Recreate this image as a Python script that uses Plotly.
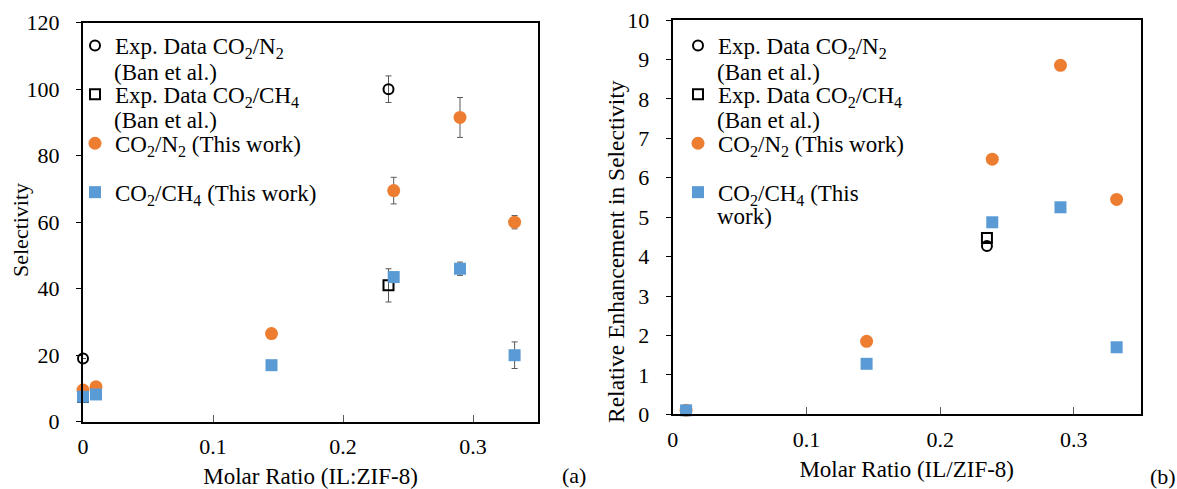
import plotly.graph_objects as go

# ---------------- data ----------------
# Panel (a): selectivity vs molar ratio
x_exp = [0, 0.235]
sel_exp_n2 = [19, 100]
sel_exp_n2_err = [0, 4]
sel_exp_ch4 = [7.4, 41]
sel_exp_ch4_err = [0, 5]

x_work = [0, 0.01, 0.145, 0.239, 0.29, 0.332]
sel_work_n2 = [9.5, 10.5, 26.5, 69.5, 91.5, 60]
sel_work_n2_err = [0, 0, 0, 4, 6, 2]
sel_work_ch4 = [7.5, 8.2, 17, 43.5, 46, 20]
sel_work_ch4_err = [0, 0, 0, 0, 2, 4]

# Panel (b): relative enhancement in selectivity
x_exp_b = [0.235]
enh_exp_n2 = [4.27]
enh_exp_ch4 = [4.47]
x_work_b = [0.01, 0.145, 0.239, 0.29, 0.332]
enh_work_n2 = [0.1, 1.85, 6.47, 8.85, 5.45]
enh_work_ch4 = [0.1, 1.28, 4.87, 5.25, 1.7]

x_ticks = [0, 0.1, 0.2, 0.3]
x_ticktext = ["0", "0.1", "0.2", "0.3"]

names_line1 = ["Exp. Data CO<sub>2</sub>/N<sub>2</sub>",
               "Exp. Data CO<sub>2</sub>/CH<sub>4</sub>",
               "CO<sub>2</sub>/N<sub>2</sub> (This work)",
               "CO<sub>2</sub>/CH<sub>4</sub> (This work)"]
names_b_last = "CO<sub>2</sub>/CH<sub>4</sub> (This"

# ---------------- style ----------------
FONT = "Liberation Serif, Times New Roman, serif"
ORANGE = "#ED7D31"
BLUE = "#5B9BD5"
ERR = dict(type="data", color="#595959", thickness=1, width=3, visible=True)
W, H = 1177, 489

def px_x(p):
    return p / W

def px_y(p):
    return 1 - p / H

fig = go.Figure()

def err(arr):
    d = dict(ERR)
    d["array"] = arr
    return d

# panel a
fig.add_trace(go.Scatter(x=x_exp, y=sel_exp_n2, mode="markers", name=names_line1[0],
                         marker=dict(symbol="circle-open", size=10, color="black", line=dict(width=2, color="black")),
                         error_y=err(sel_exp_n2_err), cliponaxis=False, legendgroup="a1",
                         xaxis="x", yaxis="y", legend="legend"))
fig.add_trace(go.Scatter(x=x_exp, y=sel_exp_ch4, mode="markers", name=names_line1[1],
                         marker=dict(symbol="square-open", size=10, color="black", line=dict(width=2, color="black")),
                         error_y=err(sel_exp_ch4_err), cliponaxis=False, legendgroup="a2",
                         xaxis="x", yaxis="y", legend="legend"))
fig.add_trace(go.Scatter(x=x_work, y=sel_work_n2, mode="markers", name=names_line1[2],
                         marker=dict(symbol="circle", size=13, color=ORANGE),
                         error_y=err(sel_work_n2_err), cliponaxis=False, legendgroup="a3",
                         xaxis="x", yaxis="y", legend="legend"))
fig.add_trace(go.Scatter(x=x_work, y=sel_work_ch4, mode="markers", name=names_line1[3],
                         marker=dict(symbol="square", size=12, color=BLUE),
                         error_y=err(sel_work_ch4_err), cliponaxis=False, legendgroup="a4",
                         xaxis="x", yaxis="y", legend="legend"))

# panel b
fig.add_trace(go.Scatter(x=x_exp_b, y=enh_exp_n2, mode="markers", name=names_line1[0],
                         marker=dict(symbol="circle-open", size=10, color="black", line=dict(width=2, color="black")),
                         cliponaxis=False, legendgroup="b1", xaxis="x2", yaxis="y2", legend="legend2"))
fig.add_trace(go.Scatter(x=x_exp_b, y=enh_exp_ch4, mode="markers", name=names_line1[1],
                         marker=dict(symbol="square-open", size=10, color="black", line=dict(width=2, color="black")),
                         cliponaxis=False, legendgroup="b2", xaxis="x2", yaxis="y2", legend="legend2"))
fig.add_trace(go.Scatter(x=x_work_b, y=enh_work_n2, mode="markers", name=names_line1[2],
                         marker=dict(symbol="circle", size=13, color=ORANGE),
                         cliponaxis=False, legendgroup="b3", xaxis="x2", yaxis="y2", legend="legend2"))
fig.add_trace(go.Scatter(x=x_work_b, y=enh_work_ch4, mode="markers", name=names_b_last,
                         marker=dict(symbol="square", size=12, color=BLUE),
                         cliponaxis=False, legendgroup="b4", xaxis="x2", yaxis="y2", legend="legend2"))

axis_common = dict(showline=True, linecolor="black", linewidth=2, mirror=True, automargin=False,
                   showgrid=False, zeroline=False, tickfont=dict(family=FONT, size=22, color="black"),
                   tickwidth=1)

legend_common = dict(font=dict(family=FONT, size=23, color="black"), bgcolor="rgba(0,0,0,0)",
                     traceorder="grouped", tracegroupgap=16, xanchor="left", yanchor="top",
                     itemsizing="trace", borderwidth=0)

ann_font = dict(family=FONT, size=23, color="black")
annotations = [
    dict(text="(Ban et al.)", x=px_x(112), y=px_y(72), xanchor="left", yanchor="middle"),
    dict(text="(Ban et al.)", x=px_x(112), y=px_y(121), xanchor="left", yanchor="middle"),
    dict(text="(Ban et al.)", x=px_x(715), y=px_y(72), xanchor="left", yanchor="middle"),
    dict(text="(Ban et al.)", x=px_x(715), y=px_y(120), xanchor="left", yanchor="middle"),
    dict(text="work)", x=px_x(715), y=px_y(216), xanchor="left", yanchor="middle"),
    dict(text="(a)", x=px_x(574), y=px_y(475), xanchor="center", yanchor="middle", font=dict(family=FONT, size=22, color="black")),
    dict(text="(b)", x=px_x(1163), y=px_y(476), xanchor="center", yanchor="middle", font=dict(family=FONT, size=22, color="black")),
    dict(text="Selectivity", x=px_x(20), y=px_y(230), xanchor="center", yanchor="middle",
         textangle=-90, font=dict(family=FONT, size=22, color="black")),
    dict(text="Relative Enhancement in Selectivity", x=px_x(616), y=px_y(251), xanchor="center",
         yanchor="middle", textangle=-90, font=dict(family=FONT, size=23.5, color="black")),
]
for a in annotations:
    a.update(xref="paper", yref="paper", showarrow=False)
    a.setdefault("font", ann_font)

fig.update_layout(
    width=W, height=H, margin=dict(l=0, r=0, t=0, b=0, autoexpand=False),
    paper_bgcolor="white", plot_bgcolor="white",
    font=dict(family=FONT, color="black"),
    xaxis=dict(axis_common, domain=[px_x(83), px_x(538)], range=[0, 0.35], tickvals=x_ticks,
               ticktext=x_ticktext, ticks="inside", ticklen=7, anchor="y", ticklabelstandoff=4,
               tickcolor="#595959",
               title=dict(text="Molar Ratio (IL:ZIF-8)", font=dict(family=FONT, size=23, color="black"), standoff=10)),
    yaxis=dict(axis_common, domain=[px_y(421.7), px_y(22.7)], range=[0, 120], dtick=20,
               ticks="outside", ticklen=5, anchor="x", ticklabelstandoff=12, tickcolor="black"),
    xaxis2=dict(axis_common, domain=[px_x(672.7), px_x(1140.7)], range=[0, 0.35], tickvals=x_ticks,
                ticktext=x_ticktext, ticks="inside", ticklen=7, anchor="y2", ticklabelstandoff=4,
                tickcolor="#595959",
                title=dict(text="Molar Ratio (IL/ZIF-8)", font=dict(family=FONT, size=23, color="black"), standoff=10)),
    yaxis2=dict(axis_common, domain=[px_y(414.3), px_y(20)], range=[0, 10], dtick=1,
                ticks="outside", ticklen=5, anchor="x2", ticklabelstandoff=12, tickcolor="black"),
    legend=dict(legend_common, x=px_x(75), y=px_y(24)),
    legend2=dict(legend_common, x=px_x(678), y=px_y(24)),
    annotations=annotations,
)

fig.write_html("out.html")
